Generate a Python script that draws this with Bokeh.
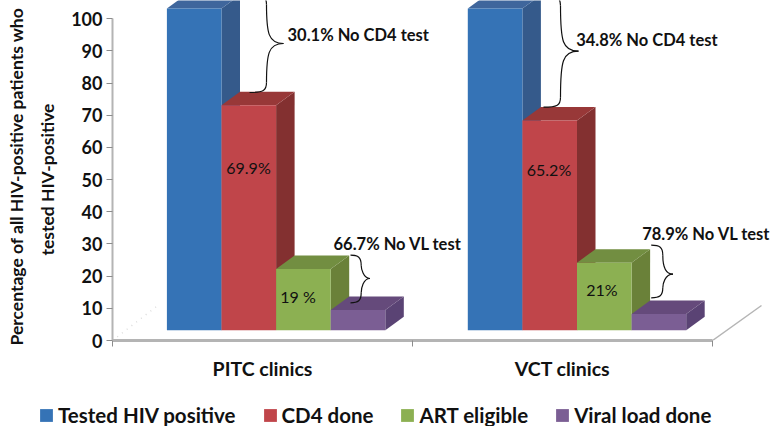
from bokeh.plotting import figure
from bokeh.models import (Range1d, FixedTicker, Label, Legend, LegendItem, Title)
from bokeh.embed import file_html
from bokeh.resources import INLINE

# ---- data
clinics = ["PITC clinics", "VCT clinics"]
series = ["Tested HIV positive", "CD4 done", "ART eligible", "Viral load done"]
tested = [100, 100]
cd4_done = [69.9, 65.2]
art_eligible = [19, 21]
viral_load = [6.3, 5.0]
value_labels = {"cd4": ["69.9%", "65.2%"], "art": ["19 %", "21%"]}
gap_labels_cd4 = ["30.1% No CD4  test", "34.8% No CD4 test"]
gap_labels_vl = ["66.7% No VL test", "78.9% No VL test"]
y_ticks = list(range(0, 101, 10))
y_title = ["Percentage of all HIV-positive patients who", "tested HIV-positive"]

front = ["#3573B6", "#C0454A", "#8CB052", "#7B5E94"]
side = ["#355A8B", "#833030", "#6A8139", "#5A4374"]
top = ["#3F669C", "#983838", "#728E41", "#654A7B"]
AXIS = "#B4B4B4"
FONT = "Lato"

W = 772
FRAME_H = 340
LEFT, BOTTOM = 112, 42
LEGEND_H = 44
PX_X = 300.0       # px per clinic group
PX_Y = 3.217       # px per percent
Y_TOP = FRAME_H / PX_Y
X_END = (W - LEFT) / PX_X

def X(px):
    return (px - LEFT) / PX_X

def Y(py):
    return (FRAME_H - py) / PX_Y

p = figure(width=W, height=FRAME_H + BOTTOM, output_backend="svg", toolbar_location=None,
           x_range=Range1d(0, X_END), y_range=Range1d(0, Y_TOP),
           min_border_left=LEFT, min_border_right=0, min_border_top=0, min_border_bottom=BOTTOM,
           outline_line_color=None, background_fill_color="white", border_fill_color="white")
p.styles = {"position": "absolute", "left": "0px", "top": "0px"}
p.grid.visible = False

ya = p.yaxis[0]
ya.ticker = FixedTicker(ticks=y_ticks)
ya.bounds = (0, 100)
ya.major_tick_out = 6
ya.major_tick_in = 0
ya.minor_tick_out = 0
ya.minor_tick_in = 0
ya.major_label_standoff = 4
ya.axis_line_color = AXIS
ya.axis_line_width = 2
ya.major_tick_line_color = "#8C8C8C"
ya.major_label_text_font = FONT
ya.major_label_text_font_style = "bold"
ya.major_label_text_font_size = "18px"
ya.major_label_text_color = "#111111"

# the two lines of the y title, each starting at its own height above the floor
for text, offset, standoff in [(y_title[1], 85, 21), (y_title[0], -5, -5)]:
    p.add_layout(Title(text=text, align="left", offset=offset, standoff=standoff,
                       text_font=FONT, text_font_style="bold", text_font_size="17.5px",
                       text_color="#111111"), "left")

xa = p.xaxis[0]
xa.ticker = FixedTicker(ticks=[0.5, 1.5], minor_ticks=[0, 1, 2])
xa.major_label_overrides = {0.5: clinics[0], 1.5: clinics[1]}
xa.bounds = (0, 2)
xa.major_tick_out = 0
xa.major_tick_in = 0
xa.minor_tick_out = 6
xa.minor_tick_in = 0
xa.axis_line_color = AXIS
xa.axis_line_width = 3
xa.minor_tick_line_color = "#8C8C8C"
xa.major_label_standoff = 10
xa.major_label_text_font = FONT
xa.major_label_text_font_style = "bold"
xa.major_label_text_font_size = "19.5px"
xa.major_label_text_color = "#111111"

# perspective floor edges
p.line([X(712), X(761)], [0, Y(305)], line_color="#B5B5B5", line_width=1.5)
p.line([X(112), X(156)], [0, Y(306)], line_color="#DDDDDD", line_width=1.5, line_dash="1 5")

# ---- 3-D bars
BASE = Y(329.7)
DX = 18.5 / PX_X
DY = 13.5 / PX_Y
BAR_W = 54.6 / PX_X
GROUP_X0 = [X(166.4), X(467.3)]
values = [tested, cd4_done, art_eligible, viral_load]

for g in range(2):
    for s in range(4):
        x0 = GROUP_X0[g] + s * BAR_W
        x1 = x0 + BAR_W
        yv = BASE + values[s][g]
        # right face, top face, then front face
        p.patch([x1, x1 + DX, x1 + DX, x1], [BASE, BASE + DY, yv + DY, yv],
                fill_color=side[s], line_color=None)
        p.patch([x0, x0 + DX, x1 + DX, x1], [yv, yv + DY, yv + DY, yv],
                fill_color=top[s], line_color=None)
        p.quad(left=[x0], right=[x1], bottom=[BASE], top=[yv],
               fill_color=front[s], line_color=None)

# ---- braces
def brace(px0, py0, spine, nose, py_mid, py1):
    """Curly bracket from (px0,py0) via the nose at (nose,py_mid) to (px0,py1)."""
    sgn = 1 if py1 > py0 else -1
    r = 10 * sgn
    segs = [
        (px0, py0, spine, py0 + r, spine - 3, py0, spine, py0 + r * 0.2),
        (spine, py0 + r, nose, py_mid, spine, py_mid - r * 1.0, spine + 2, py_mid),
        (nose, py_mid, spine, py1 - r, spine + 2, py_mid, spine, py_mid + r * 1.0),
        (spine, py1 - r, px0, py1, spine, py1 - r * 0.2, spine - 3, py1),
    ]
    for a, b, c, d, e, f, g, h in segs:
        p.bezier(x0=[X(a)], y0=[Y(b)], x1=[X(c)], y1=[Y(d)],
                 cx0=[X(e)], cy0=[Y(f)], cx1=[X(g)], cy1=[Y(h)],
                 line_color="#111111", line_width=1.2)

brace(249, 92, 266, 283, 43, -6)
brace(543, 106.7, 560, 578, 50.7, -5)
brace(350, 254.7, 360.7, 369.5, 278, 302.3)
brace(650.7, 244.7, 662.3, 672.5, 273.7, 297.3)

def label(x, y, text, size, bold=False, align="left"):
    p.add_layout(Label(x=X(x), y=Y(y), text=text, text_font=FONT,
                       text_font_size=f"{size}px",
                       text_font_style="bold" if bold else "normal",
                       text_align=align, text_baseline="middle",
                       text_color="#111111"))

label(287, 34, gap_labels_cd4[0], 16.5, True)
label(575.7, 39, gap_labels_cd4[1], 16.5, True)
label(333, 243.7, gap_labels_vl[0], 16.5, True)
label(641.7, 233.7, gap_labels_vl[1], 16.5, True)
label(248, 167, value_labels["cd4"][0], 16, align="center")
label(548.5, 169, value_labels["cd4"][1], 16, align="center")
label(297.5, 296, value_labels["art"][0], 16, align="center")
label(601.5, 289, value_labels["art"][1], 16, align="center")

# ---- legend strip below the chart
q = figure(width=W, height=LEGEND_H, output_backend="svg", toolbar_location=None,
           x_range=Range1d(0, 1), y_range=Range1d(0, 1),
           min_border_left=0, min_border_right=0, min_border_top=0, min_border_bottom=0,
           outline_line_color=None, x_axis_type=None, y_axis_type=None)
q.styles = {"position": "absolute", "left": "0px", "top": f"{FRAME_H + BOTTOM}px"}
q.grid.visible = False
keys = [q.quad(left=[2], right=[3], bottom=[2], top=[3], fill_color=c, line_color=None) for c in front]
legend = Legend(items=[LegendItem(label=series[i], renderers=[keys[i]]) for i in range(4)],
                orientation="horizontal", location=(38, -1),
                glyph_width=16, glyph_height=16, label_standoff=4, spacing=26,
                padding=0, margin=0, border_line_color=None, background_fill_alpha=0,
                label_text_font=FONT, label_text_font_style="bold",
                label_text_font_size="20.5px", label_text_color="#111111")
q.add_layout(legend)

open("out.html", "w").write(file_html([p, q], INLINE))
